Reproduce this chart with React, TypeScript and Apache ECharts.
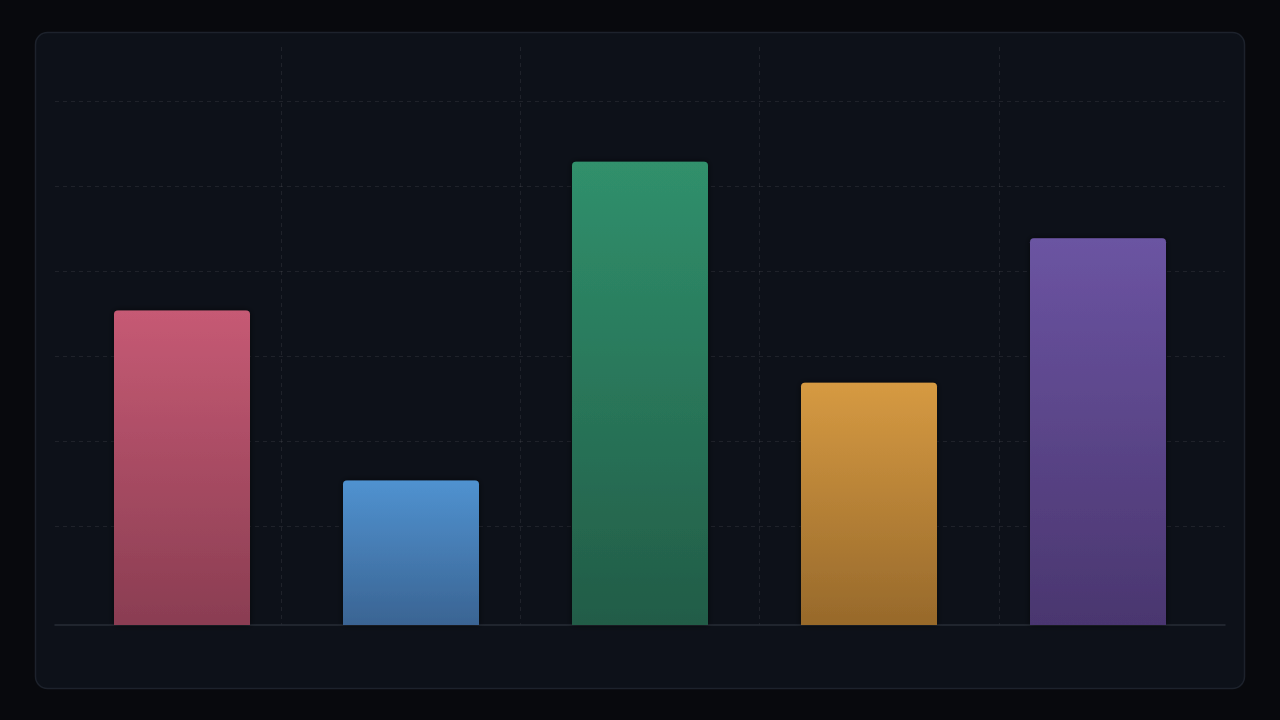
import React, { useEffect, useRef } from "react";
import * as echarts from "echarts";

const categories = ["A", "B", "C", "D", "E"];
const values = [74, 34, 109, 57, 91];
const topColors = ["#c65a74", "#5092d0", "#30906c", "#d69a42", "#6b54a2"];
const bottomColors = ["#8a3d52", "#3a6493", "#225c47", "#97692b", "#4a366f"];

export default function App() {
  const ref = useRef<HTMLDivElement>(null);
  useEffect(() => {
    if (!ref.current) return;
    const chart = echarts.init(ref.current, null, { renderer: "svg" });
    const gridLine = "rgba(255,255,255,0.075)";
    const hidden = { show: false };
    const option: any = {
      animation: false,
      backgroundColor: "#08090d",
      graphic: [
        {
          type: "rect",
          z: -10,
          shape: { x: 35.5, y: 32.5, width: 1209, height: 656, r: 12 },
          style: { fill: "#0d1119", stroke: "#1d222c", lineWidth: 1.5 },
        },
      ],
      grid: [
        { left: 42, right: 42, top: 47, bottom: 95 },
        { left: 55, right: 55, top: 101, height: 425 },
        { left: 67.5, width: 1145, top: 115, bottom: 95 },
        { left: 55, right: 55, top: 101, bottom: 95 },
      ],
      xAxis: [
        {
          gridIndex: 0,
          type: "value",
          min: 0,
          max: 5,
          interval: 1,
          axisLine: hidden,
          axisTick: hidden,
          axisLabel: hidden,
          splitLine: {
            show: true,
            showMinLine: false,
            showMaxLine: false,
            lineStyle: { color: gridLine, type: [4, 4], width: 1 },
          },
        },
        {
          gridIndex: 1,
          type: "value",
          min: 0,
          max: 1,
          axisLine: hidden,
          axisTick: hidden,
          axisLabel: hidden,
          splitLine: hidden,
        },
        {
          gridIndex: 2,
          type: "category",
          data: categories,
          axisLine: hidden,
          axisTick: hidden,
          axisLabel: hidden,
          splitLine: hidden,
        },
        {
          gridIndex: 3,
          type: "category",
          data: categories,
          axisLine: { show: true, lineStyle: { color: "#272c36", width: 1.5 } },
          axisTick: hidden,
          axisLabel: hidden,
          splitLine: hidden,
        },
      ],
      yAxis: [
        {
          gridIndex: 0,
          type: "value",
          min: 0,
          max: 1,
          show: false,
        },
        {
          gridIndex: 1,
          type: "value",
          min: 0,
          max: 5,
          interval: 1,
          axisLine: hidden,
          axisTick: hidden,
          axisLabel: hidden,
          splitLine: {
            show: true,
            lineStyle: { color: gridLine, type: [4, 4], width: 1 },
          },
        },
        {
          gridIndex: 2,
          type: "value",
          min: 0,
          max: 120,
          show: false,
          splitLine: hidden,
        },
        {
          gridIndex: 3,
          type: "value",
          min: 0,
          max: 1,
          show: false,
          splitLine: hidden,
        },
      ],
      series: [
        {
          type: "bar",
          xAxisIndex: 2,
          yAxisIndex: 2,
          barWidth: 136,
          z: 5,
          data: values.map((v, i) => ({
            value: v,
            itemStyle: {
              borderRadius: [4, 4, 0, 0],
              shadowColor: "rgba(0,0,0,0.6)",
              shadowBlur: 6,
              color: new echarts.graphic.LinearGradient(0, 0, 0, 1, [
                { offset: 0, color: topColors[i] },
                { offset: 1, color: bottomColors[i] },
              ]),
            },
          })),
        },
      ],
    };
    chart.setOption(option);
    return () => chart.dispose();
  }, []);
  return (
    <div
      ref={ref}
      style={{ position: "fixed", left: 0, top: 0, width: 1280, height: 720 }}
    />
  );
}
